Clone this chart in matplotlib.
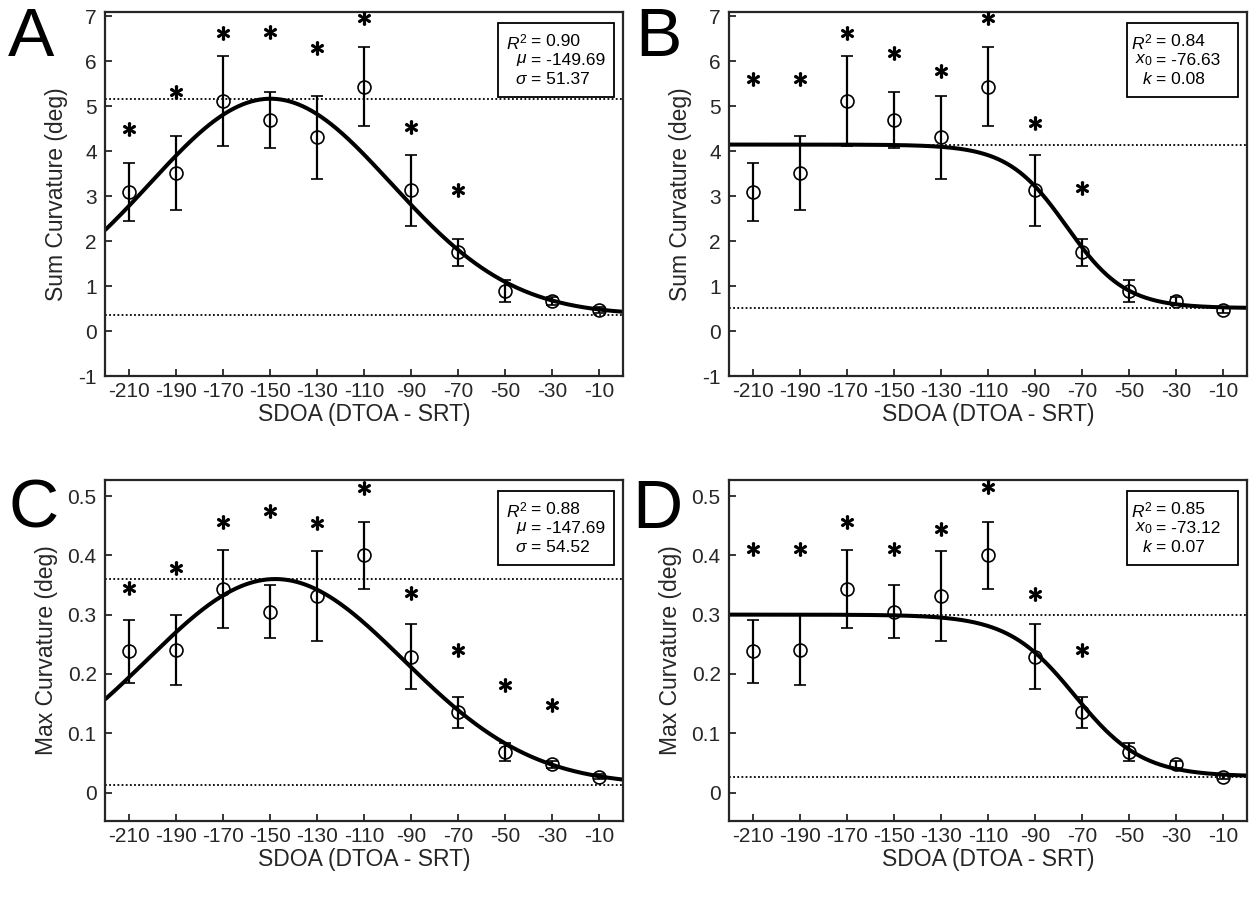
import numpy as np
import matplotlib
matplotlib.use('Agg')
import matplotlib.pyplot as plt
from matplotlib.patches import Rectangle

plt.rcParams['font.family'] = ['Liberation Sans', 'DejaVu Sans']
plt.rcParams['mathtext.fontset'] = 'custom'
plt.rcParams['mathtext.rm'] = 'Liberation Sans'
plt.rcParams['mathtext.it'] = 'Liberation Sans:italic'
plt.rcParams['mathtext.bf'] = 'Liberation Sans:bold'

# ---------------- data ----------------
sdoa = [-210, -190, -170, -150, -130, -110, -90, -70, -50, -30, -10]
xtick_labels = ['-210', '-190', '-170', '-150', '-130', '-110', '-90', '-70', '-50', '-30', '-10']

sum_mean = [3.10, 3.52, 5.12, 4.70, 4.31, 5.44, 3.13, 1.75, 0.89, 0.67, 0.47]
sum_err = [0.65, 0.83, 1.00, 0.63, 0.93, 0.88, 0.79, 0.30, 0.25, 0.09, 0.06]
max_mean = [0.238, 0.241, 0.343, 0.305, 0.331, 0.400, 0.229, 0.135, 0.068, 0.048, 0.027]
max_err = [0.053, 0.059, 0.066, 0.045, 0.076, 0.056, 0.055, 0.026, 0.015, 0.006, 0.004]

stars_A_x = [-210, -190, -170, -150, -130, -110, -90, -70]
stars_A_y = [4.50, 5.31, 6.64, 6.66, 6.31, 6.97, 4.53, 3.14]
stars_B_x = [-210, -190, -170, -150, -130, -110, -90, -70]
stars_B_y = [5.60, 5.60, 6.64, 6.19, 5.78, 6.97, 4.62, 3.18]
stars_C_x = [-210, -190, -170, -150, -130, -110, -90, -70, -50, -30]
stars_C_y = [0.345, 0.379, 0.456, 0.474, 0.454, 0.514, 0.337, 0.241, 0.182, 0.148]
stars_D_x = [-210, -190, -170, -150, -130, -110, -90, -70]
stars_D_y = [0.41, 0.41, 0.456, 0.41, 0.445, 0.515, 0.335, 0.24]

# fit parameters (gaussian: mu, sigma, baseline, peak; sigmoid: x0, k, low, high)
fit_A = (-149.69, 51.37, 0.36, 5.17)
fit_B = (-76.63, 0.08, 0.51, 4.15)
fit_C = (-147.69, 54.52, 0.013, 0.36)
fit_D = (-73.12, 0.07, 0.027, 0.30)

stats_A = [(r'$R^2$', '0.90'), (r'$\mu$', '-149.69'), (r'$\sigma$', '51.37')]
stats_B = [(r'$R^2$', '0.84'), (r'$x_\mathit{0}$', '-76.63'), (r'$k$', '0.08')]
stats_C = [(r'$R^2$', '0.88'), (r'$\mu$', '-147.69'), (r'$\sigma$', '54.52')]
stats_D = [(r'$R^2$', '0.85'), (r'$x_\mathit{0}$', '-73.12'), (r'$k$', '0.07')]

sum_ylim = (-1, 7.1)
sum_yticks = [-1, 0, 1, 2, 3, 4, 5, 6, 7]
max_ylim = (-0.048, 0.527)
max_yticks = [0, 0.1, 0.2, 0.3, 0.4, 0.5]
max_yticklabels = ['0', '0.1', '0.2', '0.3', '0.4', '0.5']

# ---------------- figure ----------------
W, H = 1249, 902
fig = plt.figure(figsize=(W / 100, H / 100), dpi=100)
fig.patch.set_facecolor('white')

TXT = '#262626'
TICK_FS = 15
LAB_FS = 16.5


def add_ax(l, t, r, b):
    return fig.add_axes([l / W, 1 - b / H, (r - l) / W, (b - t) / H])


xfine = np.linspace(-220, 0, 600)


def gauss(x, p):
    mu, s, base, peak = p
    return base + (peak - base) * np.exp(-(x - mu) ** 2 / (2 * s ** 2))


def sigm(x, p):
    x0, k, low, high = p
    return low + (high - low) / (1 + np.exp(k * (x - x0)))


def panel(ax, mean, err, sx, sy, fit, kind, stats, ylim, yticks, yticklabels,
          ylabel, letter, ylab_off, box):
    ax.set_xlim(-220, 0)
    ax.set_ylim(*ylim)
    if kind == 'g':
        yfit = gauss(xfine, fit)
    else:
        yfit = sigm(xfine, fit)
    lo, hi = fit[2], fit[3]
    for yy in (lo, hi):
        ax.axhline(yy, color='black', lw=1.3, ls=(0, (1, 1.3)), zorder=1)
    ax.plot(xfine, yfit, color='black', lw=2.9, zorder=2, solid_capstyle='butt')
    ax.errorbar(sdoa, mean, yerr=err, fmt='o', mfc='none', mec='black', mew=1.2,
                ms=9.3, ecolor='black', elinewidth=1.6, capsize=4.5, capthick=1.6,
                zorder=3)
    ax.plot(sx, sy, ls='none', marker='$\\ast$', ms=9.5, color='black',
            mec='black', mew=1.2, zorder=3)

    ax.set_xticks(sdoa)
    ax.set_xticklabels(xtick_labels)
    ax.set_yticks(yticks)
    ax.set_yticklabels(yticklabels)
    ax.tick_params(direction='in', length=5, width=1.3, colors=TXT,
                   labelsize=TICK_FS, pad=6, top=False, right=False)
    ax.tick_params(axis='x', pad=4.5)
    for sp in ax.spines.values():
        sp.set_linewidth(1.6)
        sp.set_color(TXT)

    bb = ax.get_window_extent()
    axw, axh = bb.width, bb.height
    ax.set_xlabel('SDOA (DTOA - SRT)', fontsize=LAB_FS, color=TXT)
    ax.xaxis.set_label_coords(0.5, -27 / axh)
    ax.xaxis.label.set_va('top')
    ax.set_ylabel(ylabel, fontsize=LAB_FS, color=TXT)
    ax.yaxis.set_label_coords(-ylab_off / axw, 0.5)

    # stats box (pixel geometry relative to axes top-right)
    bl, bt, bw, bh, eqx = box
    x0 = 1 - bl / axw
    y1 = 1 - bt / axh
    rect = Rectangle((x0, y1 - bh / axh), bw / axw, bh / axh, transform=ax.transAxes,
                     facecolor='white', edgecolor='black', lw=1.3, zorder=5)
    ax.add_patch(rect)
    for i, (lab, val) in enumerate(stats):
        yy = y1 - (19 + 18.5 * i) / axh
        xe = x0 + eqx / axw
        ax.text(xe - 3 / axw, yy, lab, transform=ax.transAxes, ha='right', va='center',
                fontsize=12.5, color='black', zorder=6)
        ax.text(xe, yy, '= ' + val, transform=ax.transAxes, ha='left', va='center',
                fontsize=12.5, color='black', zorder=6)

    # panel letter
    fig.text(letter[0] / W, 1 - letter[1] / H, letter[2], fontsize=50, color='black',
             ha='left', va='baseline')


axA = add_ax(105, 12, 623, 376)
axB = add_ax(729, 12, 1247, 376)
axC = add_ax(105, 480, 623, 821)
axD = add_ax(729, 480, 1247, 821)

box_g = (125, 11, 116, 74, 33)
box_s = (120, 11, 111, 74, 29)

panel(axA, sum_mean, sum_err, stars_A_x, stars_A_y, fit_A, 'g', stats_A, sum_ylim,
      sum_yticks, [str(v) for v in sum_yticks], 'Sum Curvature (deg)', (8, 56, 'A'), 37, box_g)
panel(axB, sum_mean, sum_err, stars_B_x, stars_B_y, fit_B, 's', stats_B, sum_ylim,
      sum_yticks, [str(v) for v in sum_yticks], 'Sum Curvature (deg)', (635, 56, 'B'), 37, box_s)
panel(axC, max_mean, max_err, stars_C_x, stars_C_y, fit_C, 'g', stats_C, max_ylim,
      max_yticks, max_yticklabels, 'Max Curvature (deg)', (8, 528, 'C'), 47, box_g)
panel(axD, max_mean, max_err, stars_D_x, stars_D_y, fit_D, 's', stats_D, max_ylim,
      max_yticks, max_yticklabels, 'Max Curvature (deg)', (632, 528, 'D'), 47, box_s)

fig.savefig('out.png', dpi=100, facecolor='white')
